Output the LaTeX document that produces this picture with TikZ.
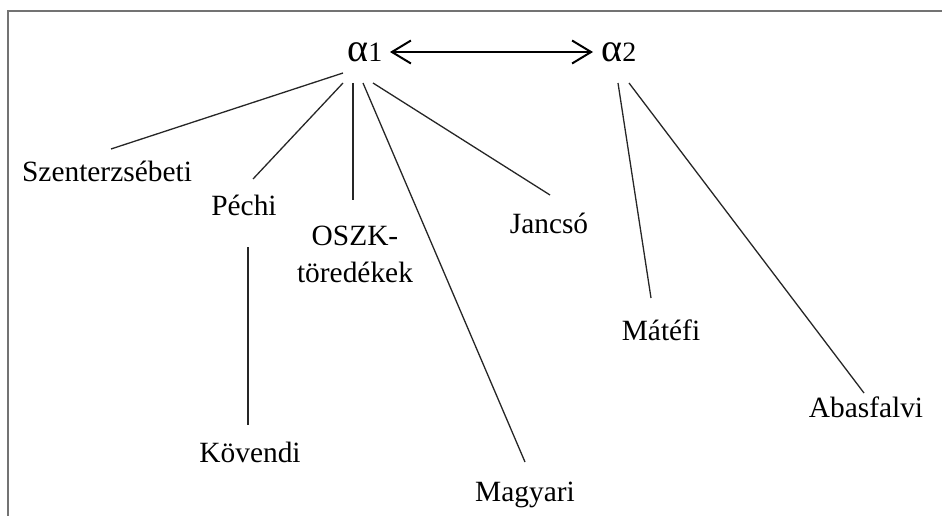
\documentclass[tikz,border=0pt]{standalone}
\usepackage{fontspec}
\setmainfont{Liberation Serif}
\usetikzlibrary{arrows.meta}
\begin{document}
\begin{tikzpicture}[x=1pt,y=-1pt,
  lbl/.style={font=\fontsize{29.4}{37}\selectfont, anchor=base, inner sep=0pt, align=center},
  greek/.style={font=\fontsize{40}{42}\selectfont, anchor=base, inner sep=0pt},
  edge/.style={line width=1.3pt, draw=black!85},
  frame/.style={line width=2pt, draw=black!55},
  barb/.tip={Straight Barb[length=19pt,width=23pt]}]
\useasboundingbox (0,0) rectangle (942,516);
% frame
\draw[frame] (7,11.5) -- (942,11.5);
\draw[frame] (8,11.5) -- (8,516);

% root nodes
\node[greek] (a1) at (365,62) {α\fontsize{28}{30}\selectfont 1};
\node[greek] (a2) at (619,62) {α\fontsize{28}{30}\selectfont 2};
\coordinate (al) at (390,52);
\coordinate (ar) at (593,52);
\draw[line width=2pt, barb-barb] (al) -- (ar);

% leaves
\node[lbl] (sz) at (107,181) {Szenterzsébeti};
\node[lbl] (pe) at (244,215) {Péchi};
\node[lbl] (os) at (355,282) {OSZK-\\töredékek};
\node[lbl] (ja) at (549,233) {Jancsó};
\node[lbl] (ko) at (250,462) {Kövendi};
\node[lbl] (ma) at (525,501) {Magyari};
\node[lbl] (mt) at (661,340) {Mátéfi};
\node[lbl] (ab) at (866,417) {Abasfalvi};

% start points below the roots
\coordinate (s1) at (343,73);
\coordinate (s2) at (343,83);
\coordinate (s3) at (353,83);
\coordinate (s4) at (363,83);
\coordinate (s5) at (373,83);
\coordinate (t1) at (618,83);
\coordinate (t2) at (629,83);

% end points above the leaves
\coordinate (e1) at (111,149);
\coordinate (e2) at (253,179);
\coordinate (e3) at (353,200);
\coordinate (e4) at (525,462);
\coordinate (e5) at (550,195);
\coordinate (f1) at (651,298);
\coordinate (f2) at (864,393);
\coordinate (p1) at (248,247);
\coordinate (p2) at (248,425);

\draw[edge] (s1) -- (e1);
\draw[edge] (s2) -- (e2);
\draw[edge] (s3) -- (e3);
\draw[edge] (s4) -- (e4);
\draw[edge] (s5) -- (e5);
\draw[edge] (t1) -- (f1);
\draw[edge] (t2) -- (f2);
\draw[edge] (p1) -- (p2);
\end{tikzpicture}
\end{document}
